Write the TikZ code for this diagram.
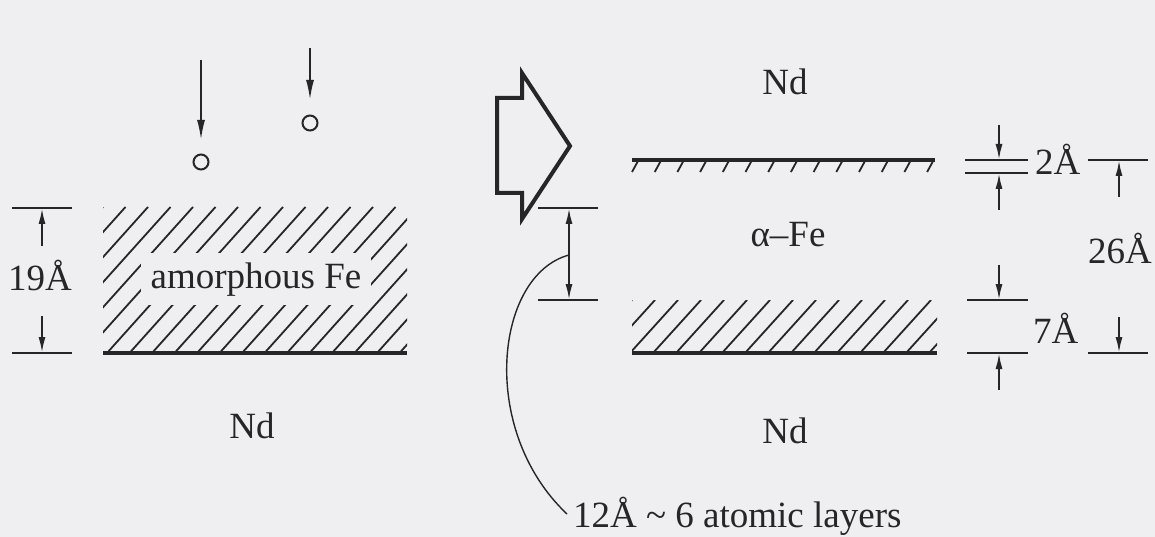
\documentclass[tikz,border=0pt]{standalone}
\usepackage{fontspec}
\setmainfont{Liberation Serif}
\usetikzlibrary{arrows.meta}
\definecolor{bg}{RGB}{239,239,241}
\definecolor{ink}{RGB}{38,38,38}
\begin{document}
\begin{tikzpicture}[x=1pt,y=-1pt,
  every node/.style={font=\fontsize{37}{44}\selectfont, text=ink, inner sep=0pt},
  dimline/.style={draw=ink, line width=2pt},
  dimarrow/.style={draw=ink, line width=2pt, -{Latex[length=16pt,width=7pt]}},
  dimboth/.style={draw=ink, line width=2pt, {Latex[length=16pt,width=7pt]}-{Latex[length=16pt,width=7pt]}},
  droparrow/.style={draw=ink, line width=2pt, -{Latex[length=20pt,width=8pt]}},
  atom/.style={circle, draw=ink, line width=2pt, minimum size=15pt},
  hatchline/.style={draw=ink, line width=1.8pt},
  surface/.style={draw=ink, line width=3.2pt},
  leader/.style={draw=ink, line width=1.4pt},
  bigarrow/.style={draw=ink, line width=4pt, line join=miter}]
\fill[bg] (0,0) rectangle (1155,537);
\useasboundingbox (0,0) rectangle (1155,537);

% incoming atoms
\coordinate (d1s) at (201,60);
\coordinate (d1e) at (201,140);
\draw[droparrow] (d1s) -- (d1e);
\node[atom] (o1) at (201,162) {};
\coordinate (d2s) at (310,48);
\coordinate (d2e) at (310,100);
\draw[droparrow] (d2s) -- (d2e);
\node[atom] (o2) at (310,123) {};

% left hatched amorphous layer
\begin{scope}
  \clip (103,207) rectangle (407,353);
  \foreach \i in {0,...,20} \draw[hatchline] ({103-131+\i*22.5},353) -- ++(131,-146);
\end{scope}
\coordinate (lb1) at (103,353);
\coordinate (lb2) at (407,353);
\draw[surface] (lb1) -- (lb2);
\node[anchor=base, fill=bg, inner xsep=10pt, inner ysep=9pt] (amor) at (256,288) {amorphous Fe};

% left dimension 19A
\coordinate (l19a) at (12,208); \coordinate (l19b) at (72,208);
\coordinate (l19c) at (12,353); \coordinate (l19d) at (72,353);
\draw[dimline] (l19a) -- (l19b);
\draw[dimline] (l19c) -- (l19d);
\coordinate (a19t) at (42,246); \coordinate (a19tt) at (42,208);
\coordinate (a19b) at (42,316); \coordinate (a19bb) at (42,353);
\draw[dimarrow] (a19t) -- (a19tt);
\draw[dimarrow] (a19b) -- (a19bb);
\node[anchor=base] (t19) at (40,290) {19Å};

\node[anchor=base] (ndl) at (252,438) {Nd};

% big hollow arrow
\draw[bigarrow] (497,98) -- (522,98) -- (522,73) -- (570,146) -- (522,219) -- (522,193) -- (497,193) -- cycle;

% right structure
\node[anchor=base] (ndt) at (785,95) {Nd};
\coordinate (rt1) at (632,160); \coordinate (rt2) at (935,160);
\draw[surface] (rt1) -- (rt2);
\foreach \i in {0,...,13} \draw[hatchline] ({638+\i*22.7},161) -- ++(-6,11);
\node[anchor=base] (afe) at (788,246) {α–Fe};
\begin{scope}
  \clip (632,300) rectangle (937,353);
  \foreach \i in {0,...,16} \draw[hatchline] ({632-48+\i*23},353) -- ++(48,-53);
\end{scope}
\coordinate (rb1) at (632,353); \coordinate (rb2) at (937,353);
\draw[surface] (rb1) -- (rb2);
\node[anchor=base] (ndb) at (785,443) {Nd};

% 12A dimension and leader
\coordinate (m1a) at (538,208); \coordinate (m1b) at (598,208);
\coordinate (m2a) at (538,300); \coordinate (m2b) at (598,300);
\draw[dimline] (m1a) -- (m1b);
\draw[dimline] (m2a) -- (m2b);
\coordinate (m12t) at (569,208); \coordinate (m12b) at (569,300);
\draw[dimboth] (m12t) -- (m12b);
\node[anchor=base west] (t12) at (573,527) {12Å \textasciitilde{} 6 atomic layers};
\coordinate (lead) at (569,255);
\coordinate (leadend) at (567,514);
\draw[leader] (lead) .. controls (495,275) and (478,430) .. (leadend);

% 2A dimension
\coordinate (p1a) at (965,160); \coordinate (p1b) at (1028,160);
\coordinate (p2a) at (965,173); \coordinate (p2b) at (1028,173);
\draw[dimline] (p1a) -- (p1b);
\draw[dimline] (p2a) -- (p2b);
\coordinate (p2t) at (999,125); \coordinate (p2tt) at (999,160);
\coordinate (p2u) at (999,210); \coordinate (p2uu) at (999,173);
\draw[dimarrow] (p2t) -- (p2tt);
\draw[dimarrow] (p2u) -- (p2uu);
\node[anchor=base west] (t2) at (1035,175) {2Å};

% 7A dimension
\coordinate (s1a) at (967,300); \coordinate (s1b) at (1028,300);
\coordinate (s2a) at (967,353); \coordinate (s2b) at (1028,353);
\draw[dimline] (s1a) -- (s1b);
\draw[dimline] (s2a) -- (s2b);
\coordinate (s7t) at (999,265); \coordinate (s7tt) at (999,300);
\coordinate (s7u) at (999,390); \coordinate (s7uu) at (999,353);
\draw[dimarrow] (s7t) -- (s7tt);
\draw[dimarrow] (s7u) -- (s7uu);
\node[anchor=base west] (t7) at (1033,343) {7Å};

% 26A dimension
\coordinate (q1a) at (1088,160); \coordinate (q1b) at (1148,160);
\coordinate (q2a) at (1088,353); \coordinate (q2b) at (1148,353);
\draw[dimline] (q1a) -- (q1b);
\draw[dimline] (q2a) -- (q2b);
\coordinate (q26t) at (1119,197); \coordinate (q26tt) at (1119,160);
\coordinate (q26u) at (1119,317); \coordinate (q26uu) at (1119,353);
\draw[dimarrow] (q26t) -- (q26tt);
\draw[dimarrow] (q26u) -- (q26uu);
\node[anchor=base] (t26) at (1120,263) {26Å};
\end{tikzpicture}
\end{document}
